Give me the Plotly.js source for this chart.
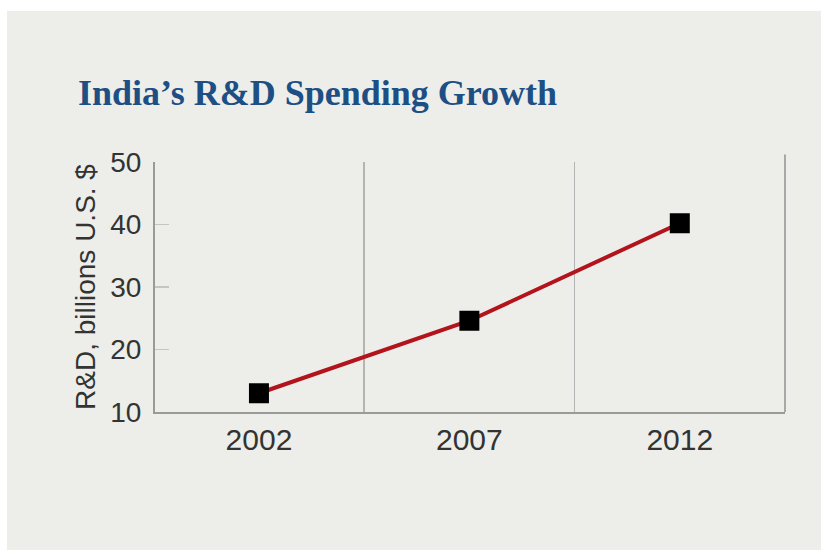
<!DOCTYPE html>
<html>
<head>
<meta charset="utf-8">
<script src="https://cdn.plot.ly/plotly-3.0.1.min.js"></script>
<style>
  html, body { margin: 0; padding: 0; background: #ffffff; }
  #chart { position: absolute; left: 7px; top: 11px; width: 814px; height: 539px; }
</style>
</head>
<body>
<div id="chart"></div>
<script>
const years = ['2002', '2007', '2012'];
const spending = [13.0, 24.6, 40.2];
const yTicks = [10, 20, 30, 40, 50];
const titleText = "India’s R&amp;D Spending Growth";
const yTitleText = "R&amp;D, billions U.S. $";

const xIdx = years.map((_, i) => i);

const trace = {
  x: xIdx,
  y: spending,
  type: 'scatter',
  mode: 'lines+markers',
  line: { color: '#b3141c', width: 4 },
  marker: { symbol: 'square', size: 20, color: '#000000', line: { width: 0 } },
  hoverinfo: 'skip',
  showlegend: false
};

const xr = [-0.494, 2.5];

const layout = {
  width: 814,
  height: 539,
  paper_bgcolor: '#edeee9',
  plot_bgcolor: '#edeee9',
  margin: { l: 148, r: 36, t: 151, b: 138 },
  title: {
    text: titleText,
    font: { family: 'Liberation Serif', size: 36, color: '#1d4f85', weight: 'bold' },
    xref: 'container', x: 71 / 814, xanchor: 'left',
    yref: 'container', y: 1 - 81 / 539, yanchor: 'middle'
  },
  xaxis: {
    range: xr,
    tickmode: 'array',
    tickvals: xIdx,
    ticktext: years,
    showgrid: false,
    zeroline: false,
    showline: true,
    linecolor: '#9a9a9a',
    linewidth: 2,
    ticks: '',
    tickfont: { family: 'Liberation Sans', size: 30, color: '#333333' },
    fixedrange: true
  },
  xaxis2: {
    overlaying: 'x',
    range: xr,
    tickmode: 'array',
    tickvals: [0.5, 1.5],
    showticklabels: false,
    showgrid: true,
    gridcolor: '#b4b4b4',
    gridwidth: 1.5,
    zeroline: false,
    ticks: '',
    fixedrange: true
  },
  yaxis: {
    range: [10, 50],
    tickmode: 'array',
    tickvals: yTicks,
    showgrid: false,
    zeroline: false,
    showline: true,
    linecolor: '#9a9a9a',
    linewidth: 2,
    ticks: 'inside',
    ticklen: 14,
    tickwidth: 1.5,
    tickcolor: '#c4c4c4',
    ticklabelstandoff: 6,
    tickfont: { family: 'Liberation Sans', size: 28, color: '#333333' },
    title: {
      text: yTitleText,
      font: { family: 'Liberation Sans', size: 28, color: '#333333' },
      standoff: 6
    },
    fixedrange: true
  },
  shapes: [
    {
      type: 'line', xref: 'paper', yref: 'paper',
      x0: 1, x1: 1, y0: 0, y1: 1.03,
      line: { color: '#a8a8a8', width: 2 }
    }
  ]
};

const gridTrace = { x: [], y: [], xaxis: 'x2', yaxis: 'y', type: 'scatter', showlegend: false, hoverinfo: 'skip' };

Plotly.newPlot('chart', [gridTrace, trace], layout, { displayModeBar: false, staticPlot: true });
</script>
</body>
</html>
